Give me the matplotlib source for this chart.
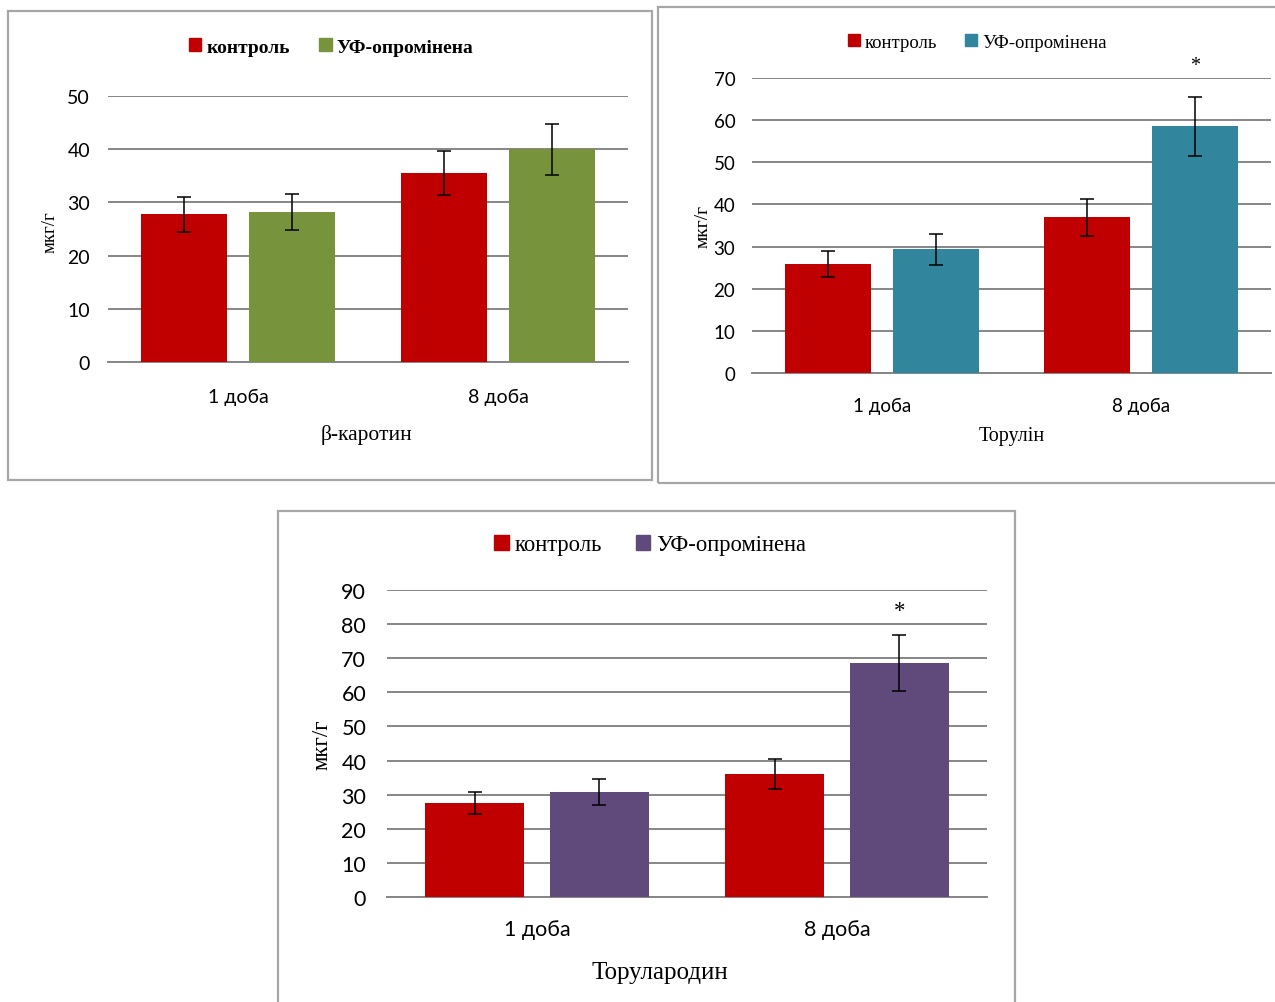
import numpy as np
import matplotlib
matplotlib.use("Agg")
import matplotlib.pyplot as plt
from matplotlib.patches import Rectangle, Patch

W, H = 1275, 1003

days = ["1 доба", "8 доба"]
series_names = ["контроль", "УФ-опромінена"]

# β-каротин
beta_ctrl = [27.8, 35.5]
beta_ctrl_err = [3.3, 4.2]
beta_uv = [28.2, 40.0]
beta_uv_err = [3.4, 4.8]

# Торулін
tor_ctrl = [25.9, 37.0]
tor_ctrl_err = [3.1, 4.4]
tor_uv = [29.4, 58.6]
tor_uv_err = [3.7, 7.0]

# Торулародин
torr_ctrl = [27.6, 36.1]
torr_ctrl_err = [3.2, 4.3]
torr_uv = [30.8, 68.6]
torr_uv_err = [3.8, 8.1]

RED = "#C00000"
GREEN = "#77933C"
TEAL = "#31859C"
PURPLE = "#604A7B"
GRID = "#868686"

SANS = "Lato"
SERIF = "Liberation Serif"

fig = plt.figure(figsize=(W / 100, H / 100), dpi=100)


def fx(x):
    return x / W


def fy(y):
    return 1 - y / H


def frame(x0, y0, x1, y1):
    fig.patches.append(Rectangle((fx(x0), fy(y1)), fx(x1) - fx(x0), fy(y0) - fy(y1),
                                 transform=fig.transFigure, fill=False,
                                 edgecolor="#A6A6A6", linewidth=1.6))


def panel(box, area, ymax, ctrl, ctrl_err, uv, uv_err, color, title, fs,
          legend_xy, leg_fs, leg_bold, ylab_xy, ylab_fs, title_xy, title_fs, xpad, ypad,
          star_y=None):
    frame(*box)
    left, top, right, bottom = area
    ax = fig.add_axes([fx(left), fy(bottom), fx(right) - fx(left), fy(top) - fy(bottom)])
    x = np.arange(len(days))
    w, off = 0.33, 0.208
    ax.bar(x - off, ctrl, w, color=RED, zorder=3)
    ax.bar(x + off, uv, w, color=color, zorder=3)
    ax.errorbar(x - off, ctrl, yerr=ctrl_err, fmt="none", ecolor="black", elinewidth=1.1,
                capsize=5, capthick=1.1, zorder=4)
    ax.errorbar(x + off, uv, yerr=uv_err, fmt="none", ecolor="black", elinewidth=1.1,
                capsize=5, capthick=1.1, zorder=4)
    if star_y is not None:
        ax.text(1 + off, star_y, "*", ha="center", va="center", fontsize=fs + 1, family=SERIF)
    ax.set_xlim(-0.5, 1.5)
    ax.set_ylim(0, ymax)
    ax.set_yticks(np.arange(0, ymax + 1, 10))
    ax.grid(axis="y", color=GRID, linewidth=1.4, zorder=0)
    ax.set_axisbelow(True)
    for s in ["top", "right", "left"]:
        ax.spines[s].set_visible(False)
    ax.spines["bottom"].set_color(GRID)
    ax.spines["bottom"].set_linewidth(1.4)
    ax.set_xticks(x)
    ax.set_xticklabels(days, family=SANS, fontsize=fs)
    ax.tick_params(axis="x", length=0, pad=xpad)
    ax.tick_params(axis="y", length=0, pad=ypad, labelsize=fs)
    for t in ax.get_yticklabels():
        t.set_family(SANS)
    ax.patch.set_alpha(0)
    handles = [Patch(color=RED), Patch(color=color)]
    fig.legend(handles, series_names, loc="center", ncol=2,
               bbox_to_anchor=(fx(legend_xy[0]), fy(legend_xy[1])), frameon=False,
               handlelength=0.65, handleheight=0.65, handletextpad=0.25, columnspacing=1.5,
               prop={"family": SERIF, "size": leg_fs, "weight": "bold" if leg_bold else "normal"})
    fig.text(fx(ylab_xy[0]), fy(ylab_xy[1]), "мкг/г", rotation=90, ha="center", va="center",
             family=SERIF, fontsize=ylab_fs)
    fig.text(fx(title_xy[0]), fy(title_xy[1]), title, ha="center", va="center",
             family=SERIF, fontsize=title_fs)
    return ax


panel((8, 12, 652, 481), (108, 97, 628, 363), 50, beta_ctrl, beta_ctrl_err, beta_uv, beta_uv_err,
      GREEN, "β-каротин", 14, (331, 48), 14, True, (50, 232), 13.5, (367, 435), 15.5, 19, 13)

panel((658, 8, 1290, 484), (752, 79, 1271, 374), 70, tor_ctrl, tor_ctrl_err, tor_uv, tor_uv_err,
      TEAL, "Торулін", 13.5, (977, 43), 13.5, False, (703, 226), 14, (1012, 437), 14.5, 17, 12,
      star_y=73)

panel((278, 512, 1015, 1020), (387, 591, 987, 898), 90, torr_ctrl, torr_ctrl_err, torr_uv, torr_uv_err,
      PURPLE, "Торулародин", 15.5, (650, 546), 16.3, False, (322, 745), 16.5, (660, 973), 18, 16, 15,
      star_y=84)

fig.savefig("out.png", dpi=100, facecolor="white")
